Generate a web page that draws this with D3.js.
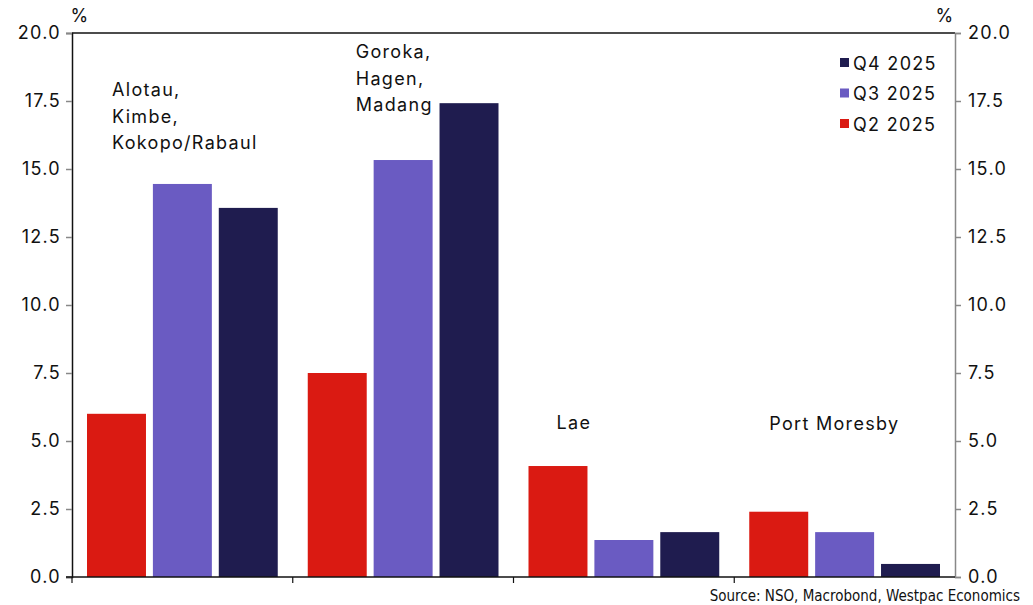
<!DOCTYPE html>
<html>
<head>
<meta charset="utf-8">
<script src="https://cdn.jsdelivr.net/npm/d3@7"></script>
<style>
    body { margin: 0; background: #fff; }
    svg text { font-family: 'Inter', 'Noto Sans', sans-serif; fill: #111; letter-spacing: 1.3px; }
</style>
</head>
<body>
<div id="chart"></div>
<script>
// categories and series
const regions = ['Alotau', 'Goroka', 'Lae', 'Port Moresby'];
const regionLabels = [
    ['Alotau,', 'Kimbe,', 'Kokopo/Rabaul'],
    ['Goroka,', 'Hagen,', 'Madang'],
    ['Lae'],
    ['Port Moresby']
];
const seriesNames = ['Q2 2025', 'Q3 2025', 'Q4 2025'];
const q2Values = [6.0, 7.5, 4.08, 2.4];
const q3Values = [14.45, 15.33, 1.36, 1.65];
const q4Values = [13.57, 17.42, 1.65, 0.48];
const yTicks = [0, 2.5, 5, 7.5, 10, 12.5, 15, 17.5, 20];
const colors = ['#DA1A12', '#6A5BC2', '#1F1C4F'];

const size = { width: 1033, height: 605 };
const margin = { top: 33, right: 78, bottom: 28, left: 72 };
const innerW = size.width - margin.left - margin.right;
const innerH = size.height - margin.top - margin.bottom;

const svg = d3.select('#chart').append('svg')
    .attr('width', size.width)
    .attr('height', size.height);
const g = svg.append('g')
    .attr('transform', 'translate(' + margin.left + ',' + margin.top + ')');

const xScale = d3.scaleBand().domain(regions).range([0, innerW]);
const xInner = d3.scaleBand().domain(seriesNames)
    .range([15, xScale.bandwidth() - 15]).paddingInner(0.105);
const yScale = d3.scaleLinear().domain([0, 20]).range([innerH, 0]);

// bars
const table = regions.map((r, i) => ({
    region: r,
    values: [q2Values[i], q3Values[i], q4Values[i]]
}));
const groups = g.selectAll('g.group').data(table).enter().append('g')
    .attr('class', 'group')
    .attr('transform', d => 'translate(' + xScale(d.region) + ',0)');
groups.selectAll('rect').data(d => d.values.map((v, k) => ({ key: seriesNames[k], v: v, k: k })))
    .enter().append('rect')
    .attr('x', d => xInner(d.key))
    .attr('y', d => yScale(d.v))
    .attr('width', xInner.bandwidth())
    .attr('height', d => innerH - yScale(d.v))
    .style('fill', d => colors[d.k]);

// frame
g.append('line').attr('x1', 0).attr('x2', innerW).attr('y1', 0).attr('y2', 0)
    .style('stroke', '#111').style('stroke-width', 1.5);

// left axis
const leftAxis = g.append('g')
    .call(d3.axisLeft(yScale).tickValues(yTicks).tickFormat(d3.format('.1f')).tickSize(6).tickPadding(5));
leftAxis.select('.domain').style('stroke', '#111').style('stroke-width', 1.5);
leftAxis.selectAll('.tick line').style('stroke', '#888').style('stroke-width', 1.5);
leftAxis.selectAll('text').style('font-size', '18px').style('fill', '#111');

// right axis
const rightAxis = g.append('g')
    .attr('transform', 'translate(' + innerW + ',0)')
    .call(d3.axisRight(yScale).tickValues(yTicks).tickFormat(d3.format('.1f')).tickSize(6).tickPadding(7));
rightAxis.select('.domain').style('stroke', '#888').style('stroke-width', 1.5);
rightAxis.selectAll('.tick line').style('stroke', '#888').style('stroke-width', 1.5);
rightAxis.selectAll('text').style('font-size', '18px').style('fill', '#111');

// bottom axis, ticks at band boundaries
const xEdges = regions.map(r => xScale(r)).concat([innerW]);
const bottom = g.append('g').attr('transform', 'translate(0,' + innerH + ')');
bottom.append('line').attr('x1', -6).attr('x2', innerW).attr('y1', 0).attr('y2', 0)
    .style('stroke', '#111').style('stroke-width', 1.5);
bottom.selectAll('line.tick').data(xEdges.slice(0, 4)).enter().append('line')
    .attr('class', 'tick')
    .attr('x1', d => d).attr('x2', d => d).attr('y1', 0).attr('y2', 6)
    .style('stroke', '#111').style('stroke-width', 1.2);

// unit labels
svg.append('text').attr('x', margin.left + 8).attr('y', 22)
    .attr('text-anchor', 'middle').style('font-size', '18px').text('%');
svg.append('text').attr('x', margin.left + innerW - 10).attr('y', 22)
    .attr('text-anchor', 'middle').style('font-size', '18px').text('%');

// region labels
const labelPos = [
    { dx: 40, y: 17.68 },
    { dx: 63, y: 19.08 },
    { dx: 43, y: 5.44 },
    { dx: 35, y: 5.4 }
];
regionLabels.forEach((lines, i) => {
    const t = g.append('text')
        .attr('x', xScale(regions[i]) + labelPos[i].dx)
        .attr('y', yScale(labelPos[i].y))
        .style('font-size', '18px');
    lines.forEach((ln, j) => {
        t.append('tspan').attr('x', xScale(regions[i]) + labelPos[i].dx)
            .attr('dy', j === 0 ? 0 : 26.5).text(ln);
    });
});

// legend
const legendOrder = [2, 1, 0];
const legend = g.append('g').attr('transform', 'translate(' + (innerW - 115) + ',' + 30 + ')');
legendOrder.forEach((k, i) => {
    legend.append('rect').attr('x', 0).attr('y', i * 30.5 - 5).attr('width', 9).attr('height', 9)
        .style('fill', colors[k]);
    legend.append('text').attr('x', 13).attr('y', i * 30.5 + 6.5)
        .style('font-size', '18px').text(seriesNames[k]);
});

// source
svg.append('text').attr('x', 1020).attr('y', 601)
    .attr('text-anchor', 'end')
    .style('font-family', "'DejaVu Sans Condensed', 'Liberation Sans Narrow', sans-serif")
    .style('letter-spacing', '0px')
    .style('font-size', '15px').text('Source: NSO, Macrobond, Westpac Economics');
</script>
</body>
</html>
